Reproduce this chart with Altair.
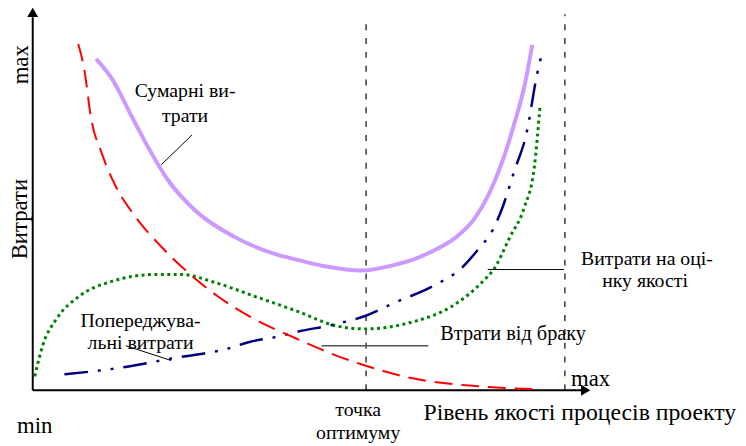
import altair as alt
import pandas as pd

# ---- curves: quality level (q) vs cost (c); origin at the corner of the axes ----
defect_q = [46, 52, 59, 70, 83, 104, 130, 157, 187, 224, 267, 307, 336, 384, 450, 512]
defect_c = [350, 325, 275, 239, 208, 175, 145, 119, 95, 72, 52, 35, 25, 12, 4, 1]

total_q = [64, 80, 100, 117, 137, 164, 204, 247, 267, 297, 332, 367, 387, 407, 427, 447, 462, 475, 487, 497, 505]
total_c = [335, 315, 277, 245, 212, 182, 155, 137, 132, 125, 121, 127, 133, 142, 154, 174, 200, 232, 270, 307, 349]

prevent_q = [32, 97, 140, 197, 220, 247, 267, 307, 336, 367, 404, 434, 450, 465, 475, 487, 499, 510, 516]
prevent_c = [16, 24, 32, 42, 49, 54, 59, 67, 75, 89, 105, 124, 142, 162, 185, 222, 259, 320, 345]

apprais_q = [2, 10, 24, 47, 80, 124, 150, 184, 224, 267, 307, 336, 384, 424, 457, 466, 482, 497, 507, 513]
apprais_c = [14, 45, 72, 95, 110, 117, 117, 109, 95, 80, 65, 62, 69, 85, 112, 122, 154, 185, 225, 289]

# ---- labels ----
axis_text = ["max", "Витрати", "min", "max"]
axis_q = [-12, -13, 2, 564]
axis_c = [329, 173, -36, 11]
axis_angle = [270, 270, 0, 0]

opt_text = ["точка", "оптимуму"]
opt_q = [329, 329]
opt_c = [-20, -43]

xtitle_text = ["Рівень якості процесів проекту"]
xtitle_q = [395]
xtitle_c = [-23]

note_text = ["Сумарні ви-", "трати", "Попереджува-", "льні витрати",
             "Витрати на оці-", "нку якості"]
note_q = [154, 154, 109, 109, 621, 619]
note_c = [302, 277, 70, 48, 133, 110]

brak_text = ["Втрати від браку"]
brak_q = [412]
brak_c = [57]

# leader lines (start / end)
lead_q = [130, 94, 460]
lead_c = [228, 45, 122]
lead_q2 = [161, 140, 537]
lead_c2 = [258, 30, 122]
grey_q, grey_c, grey_q2, grey_c2 = [292], [45], [400], [45]

# dashed verticals: optimum point and max quality
vline_q = [337, 538]
vline_c2 = [373, 380]

# axes
yaxis_top = 377
xaxis_end = 557

FONT = "Liberation Serif, Times New Roman, serif"
X = alt.X("q:Q", scale=alt.Scale(domain=[-25, 713]), axis=None)
Y = alt.Y("c:Q", scale=alt.Scale(domain=[-54, 384]), axis=None)


def curve(q, c, color, width, dash=None):
    df = pd.DataFrame({"q": q, "c": c})
    kw = dict(color=color, strokeWidth=width, interpolate="monotone")
    if dash:
        kw["strokeDash"] = dash
    return alt.Chart(df).mark_line(**kw).encode(x=X, y=Y)


def segs(q, c, q2, c2, color, width, dash=None):
    df = pd.DataFrame({"q": q, "c": c, "q2": q2, "c2": c2})
    kw = dict(color=color, strokeWidth=width)
    if dash:
        kw["strokeDash"] = dash
    return alt.Chart(df).mark_rule(**kw).encode(x=X, y=Y, x2="q2:Q", y2="c2:Q")


def texts(t, q, c, size, align="center", angle=None):
    d = {"q": q, "c": c, "t": t}
    if angle is not None:
        d["a"] = angle
    df = pd.DataFrame(d)
    ch = alt.Chart(df).mark_text(font=FONT, fontSize=size, align=align,
                                 baseline="middle", color="black")
    enc = dict(x=X, y=Y, text="t:N")
    if angle is not None:
        enc["angle"] = alt.Angle("a:Q", scale=None)
    return ch.encode(**enc)


layers = [
    segs(vline_q, [0, 0], vline_q, vline_c2, "#1a1a1a", 1.3, [6, 8]),
    segs([0], [0], [0], [yaxis_top], "black", 2),
    segs([0], [0], [xaxis_end], [0], "black", 2),
    alt.Chart(pd.DataFrame({"q": [0], "c": [382]})).mark_point(
        shape="triangle-up", filled=True, size=120, color="black", opacity=1).encode(x=X, y=Y),
    alt.Chart(pd.DataFrame({"q": [559], "c": [0]})).mark_point(
        shape="triangle-right", filled=True, size=120, color="black", opacity=1).encode(x=X, y=Y),
    curve(apprais_q, apprais_c, "#008000", 3, [3, 3.5]),
    curve(prevent_q, prevent_c, "#000080", 2.5, [24, 10, 3, 10, 3, 10]),
    curve(defect_q, defect_c, "#ff0000", 2, [18, 9]),
    curve(total_q, total_c, "#cc99ff", 4),
    segs(lead_q, lead_c, lead_q2, lead_c2, "black", 1),
    segs(grey_q, grey_c, grey_q2, grey_c2, "#555555", 1.5),
    texts(axis_text, axis_q, axis_c, 23, angle=axis_angle),
    texts(opt_text, opt_q, opt_c, 20),
    texts(xtitle_text, xtitle_q, xtitle_c, 24, align="left"),
    texts(note_text, note_q, note_c, 20),
    texts(brak_text, brak_q, brak_c, 20.5, align="left"),
]

chart = alt.layer(*layers).properties(
    width=738, height=438, padding=0, autosize="none"
).configure_view(stroke=None)

chart.save("out.html", embed_options={"renderer": "svg", "actions": False})
